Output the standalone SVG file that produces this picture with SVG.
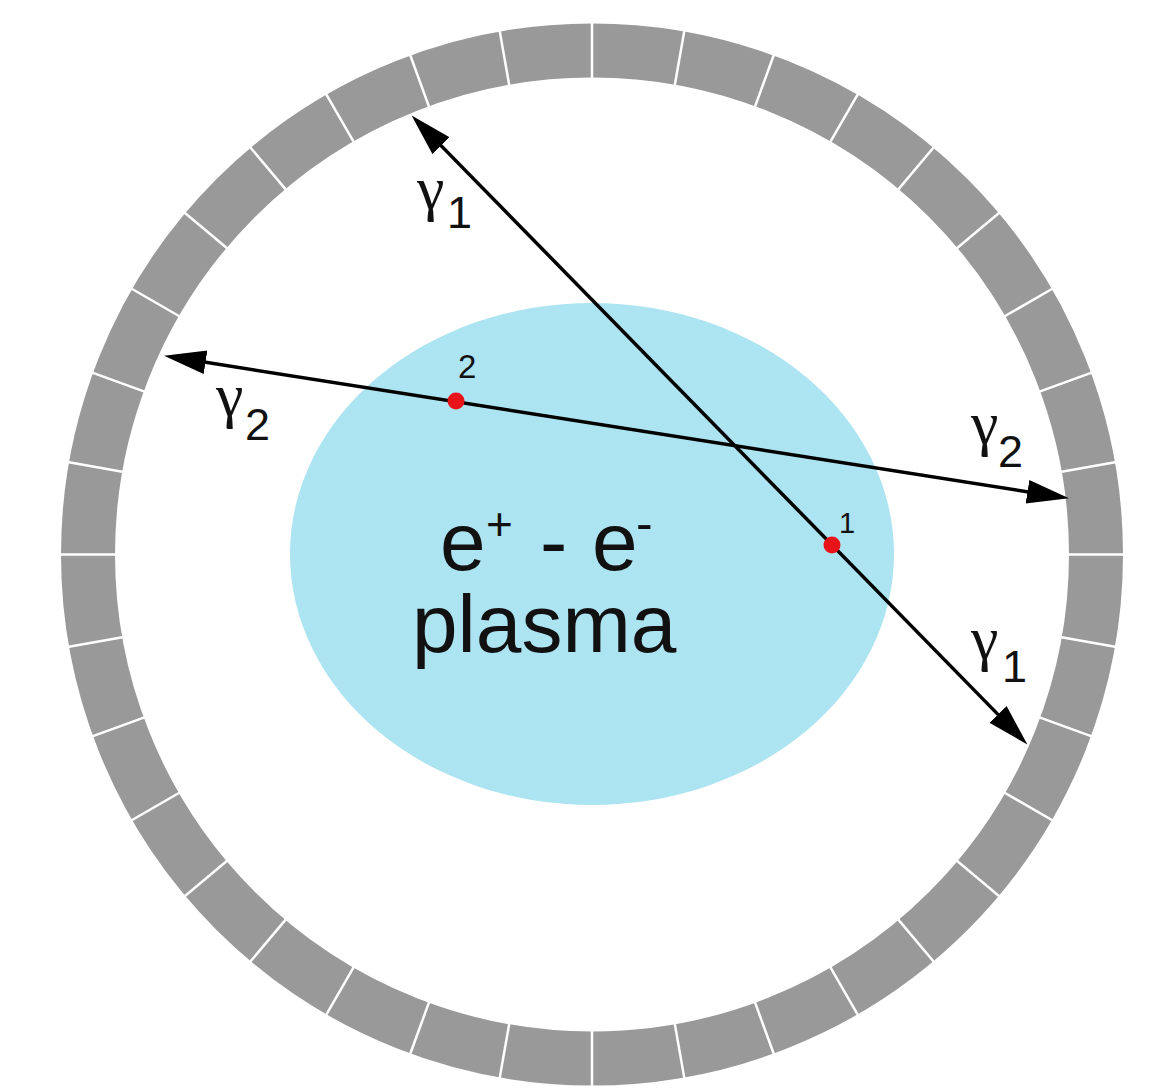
<svg xmlns="http://www.w3.org/2000/svg" width="1173" height="1088" viewBox="0 0 1173 1088">
<style>
.ring{fill:none;stroke:#999999;stroke-width:54}
.gap{stroke:#ffffff;stroke-width:2.5}
.ray{stroke:#000;stroke-width:3.5;fill:none}
.lbl{font-family:"Liberation Sans",Arial,sans-serif;fill:#111}
.gam{font-family:"Liberation Serif","Times New Roman",serif;font-size:62px}
.dot{fill:#e8141a}
</style>
<defs>
<marker id="ah" markerUnits="userSpaceOnUse" markerWidth="46" markerHeight="28" viewBox="0 -14 46 28" refX="30" refY="0" orient="auto-start-reverse">
<path d="M0,-12 L42,0 L0,12 Z" fill="#000"/>
</marker>
</defs>
<rect width="1173" height="1088" fill="#fff"/>
<g id="detector">
<circle class="ring" cx="592" cy="554.5" r="504"/>
<g id="gaps" transform="translate(592 554.5)">
<line class="gap" x1="474" y1="0" x2="534" y2="0" transform="rotate(0)"/>
<line class="gap" x1="474" y1="0" x2="534" y2="0" transform="rotate(10)"/>
<line class="gap" x1="474" y1="0" x2="534" y2="0" transform="rotate(20)"/>
<line class="gap" x1="474" y1="0" x2="534" y2="0" transform="rotate(30)"/>
<line class="gap" x1="474" y1="0" x2="534" y2="0" transform="rotate(40)"/>
<line class="gap" x1="474" y1="0" x2="534" y2="0" transform="rotate(50)"/>
<line class="gap" x1="474" y1="0" x2="534" y2="0" transform="rotate(60)"/>
<line class="gap" x1="474" y1="0" x2="534" y2="0" transform="rotate(70)"/>
<line class="gap" x1="474" y1="0" x2="534" y2="0" transform="rotate(80)"/>
<line class="gap" x1="474" y1="0" x2="534" y2="0" transform="rotate(90)"/>
<line class="gap" x1="474" y1="0" x2="534" y2="0" transform="rotate(100)"/>
<line class="gap" x1="474" y1="0" x2="534" y2="0" transform="rotate(110)"/>
<line class="gap" x1="474" y1="0" x2="534" y2="0" transform="rotate(120)"/>
<line class="gap" x1="474" y1="0" x2="534" y2="0" transform="rotate(130)"/>
<line class="gap" x1="474" y1="0" x2="534" y2="0" transform="rotate(140)"/>
<line class="gap" x1="474" y1="0" x2="534" y2="0" transform="rotate(150)"/>
<line class="gap" x1="474" y1="0" x2="534" y2="0" transform="rotate(160)"/>
<line class="gap" x1="474" y1="0" x2="534" y2="0" transform="rotate(170)"/>
<line class="gap" x1="474" y1="0" x2="534" y2="0" transform="rotate(180)"/>
<line class="gap" x1="474" y1="0" x2="534" y2="0" transform="rotate(190)"/>
<line class="gap" x1="474" y1="0" x2="534" y2="0" transform="rotate(200)"/>
<line class="gap" x1="474" y1="0" x2="534" y2="0" transform="rotate(210)"/>
<line class="gap" x1="474" y1="0" x2="534" y2="0" transform="rotate(220)"/>
<line class="gap" x1="474" y1="0" x2="534" y2="0" transform="rotate(230)"/>
<line class="gap" x1="474" y1="0" x2="534" y2="0" transform="rotate(240)"/>
<line class="gap" x1="474" y1="0" x2="534" y2="0" transform="rotate(250)"/>
<line class="gap" x1="474" y1="0" x2="534" y2="0" transform="rotate(260)"/>
<line class="gap" x1="474" y1="0" x2="534" y2="0" transform="rotate(270)"/>
<line class="gap" x1="474" y1="0" x2="534" y2="0" transform="rotate(280)"/>
<line class="gap" x1="474" y1="0" x2="534" y2="0" transform="rotate(290)"/>
<line class="gap" x1="474" y1="0" x2="534" y2="0" transform="rotate(300)"/>
<line class="gap" x1="474" y1="0" x2="534" y2="0" transform="rotate(310)"/>
<line class="gap" x1="474" y1="0" x2="534" y2="0" transform="rotate(320)"/>
<line class="gap" x1="474" y1="0" x2="534" y2="0" transform="rotate(330)"/>
<line class="gap" x1="474" y1="0" x2="534" y2="0" transform="rotate(340)"/>
<line class="gap" x1="474" y1="0" x2="534" y2="0" transform="rotate(350)"/>
</g>
</g>
<g id="plasma">
<ellipse cx="592" cy="554" rx="302" ry="251" fill="#ade4f1"/>
<text class="lbl"><tspan x="440" y="570" font-size="82">e</tspan><tspan x="486" y="540" font-size="46">+</tspan><tspan x="540" y="570" font-size="82">-</tspan><tspan x="592" y="570" font-size="82">e</tspan><tspan x="636" y="540" font-size="50">-</tspan></text>
<text class="lbl" x="412" y="652" font-size="82">plasma</text>
</g>
<g id="connectors">
<path class="ray" d="M420,124.1 L1019,735.9" marker-start="url(#ah)" marker-end="url(#ah)"/>
<path class="ray" d="M175.9,357.6 L1057.1,496.4" marker-start="url(#ah)" marker-end="url(#ah)"/>
</g>
<g id="point2">
<circle class="dot" cx="456" cy="401" r="8.5"/>
<text class="lbl" x="458" y="378" font-size="33">2</text>
</g>
<g id="point1">
<circle class="dot" cx="832" cy="545" r="8.5"/>
<text class="lbl" x="839" y="533" font-size="29">1</text>
</g>
<g id="labels">
<text class="lbl"><tspan class="gam" x="417" y="209">γ</tspan><tspan x="447" y="228" font-size="45">1</tspan></text>
<text class="lbl"><tspan class="gam" x="216" y="416">γ</tspan><tspan x="245" y="440" font-size="45">2</tspan></text>
<text class="lbl"><tspan class="gam" x="971" y="444">γ</tspan><tspan x="998" y="467" font-size="45">2</tspan></text>
<text class="lbl"><tspan class="gam" x="971" y="659">γ</tspan><tspan x="1002" y="682" font-size="45">1</tspan></text>
</g>
</svg>
